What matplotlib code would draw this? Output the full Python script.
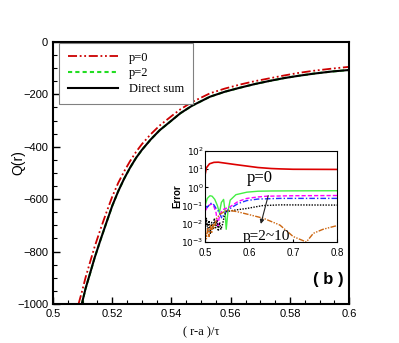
import matplotlib
matplotlib.use('Agg')
import matplotlib.pyplot as plt
import numpy as np

# main panel: Q(r) vs (r-a)/tau
x_ds = [0.5097, 0.511, 0.5125, 0.514, 0.516, 0.518, 0.520, 0.522, 0.524, 0.526, 0.528,
        0.530, 0.533, 0.536, 0.540, 0.543, 0.547, 0.553, 0.558, 0.563, 0.568, 0.573,
        0.578, 0.583, 0.588, 0.594, 0.600]
q_ds = [-1000, -940, -883, -825, -756, -690, -625, -570, -522, -480, -443,
        -412, -372, -337, -300, -272, -243, -209, -190, -175, -161, -149,
        -138, -129, -121, -113, -107]
x_p0 = [0.5086, 0.5097, 0.511, 0.5125, 0.514, 0.516, 0.518, 0.520, 0.522, 0.524, 0.526,
        0.528, 0.530, 0.533, 0.536, 0.540, 0.543, 0.547, 0.553, 0.558, 0.563, 0.568,
        0.573, 0.578, 0.583, 0.588, 0.594, 0.600]
q_p0 = [-1000, -955, -898, -840, -783, -715, -651, -590, -538, -494, -455,
        -420, -390, -352, -319, -283, -257, -229, -196, -178, -163, -150,
        -139, -128, -118, -110, -102, -95]
q_p2 = [-1000, -940, -883, -825, -756, -690, -625, -570, -522, -480, -443,
        -412, -372, -337, -300, -272, -243, -209, -190, -175, -161, -149,
        -138, -129, -121, -113, -107]

# inset: error curves
ex_p0 = [0.5, 0.503, 0.51, 0.52, 0.53, 0.55, 0.57, 0.595, 0.62, 0.65, 0.67, 0.7, 0.8]
e_p0 = [5, 12, 20, 24, 24.5, 21, 18, 15, 12.5, 11, 10.5, 10, 9.8]
ex_g = [0.5, 0.505, 0.511, 0.516, 0.522, 0.528, 0.5325, 0.537, 0.542, 0.545, 0.548,
        0.552, 0.557, 0.57, 0.595, 0.62, 0.65, 0.7, 0.8]
e_g = [0.1, 0.25, 0.35, 0.33, 0.22, 0.1, 0.04, 0.15, 0.22, 0.06, 0.005,
       0.05, 0.2, 0.4, 0.55, 0.62, 0.64, 0.65, 0.66]
ex_m = [0.5, 0.505, 0.51, 0.515, 0.52, 0.525, 0.529, 0.533, 0.54, 0.557, 0.575, 0.595, 0.62, 0.64, 0.7, 0.8]
e_m = [0.05, 0.08, 0.11, 0.12, 0.09, 0.04, 0.008, 0.03, 0.06, 0.087, 0.17, 0.25, 0.3, 0.33, 0.35, 0.36]
ex_b = [0.5, 0.505, 0.51, 0.515, 0.52, 0.525, 0.53, 0.535, 0.538, 0.542, 0.548, 0.557, 0.575, 0.595, 0.62, 0.67, 0.8]
e_b = [0.1, 0.08, 0.12, 0.14, 0.11, 0.07, 0.05, 0.03, 0.02, 0.03, 0.05, 0.07, 0.13, 0.19, 0.23, 0.25, 0.25]
ex_k = [0.5, 0.503, 0.506, 0.509, 0.512, 0.515, 0.518, 0.521, 0.524, 0.527, 0.53, 0.533,
        0.536, 0.54, 0.544, 0.549, 0.57, 0.595, 0.63, 0.67, 0.8]
e_k = [0.006, 0.02, 0.004, 0.015, 0.003, 0.012, 0.005, 0.02, 0.006, 0.015, 0.004, 0.012,
       0.005, 0.01, 0.03, 0.047, 0.058, 0.07, 0.1, 0.11, 0.107]
ex_o = [0.5, 0.503, 0.506, 0.509, 0.512, 0.515, 0.518, 0.521, 0.526, 0.535, 0.55, 0.572,
        0.6, 0.633, 0.67, 0.7, 0.73, 0.746, 0.768, 0.8]
e_o = [0.004, 0.0015, 0.006, 0.002, 0.008, 0.003, 0.01, 0.006, 0.02, 0.035, 0.057, 0.047,
       0.032, 0.02, 0.0085, 0.002, 0.001, 0.003, 0.005, 0.008]

fig = plt.figure(figsize=(3.99, 3.43), dpi=100)
ax = fig.add_axes([0.133, 0.1137, 0.742, 0.764])

ax.plot(x_ds, q_p2, color='#22dd22', lw=1.5, ls=(0, (2, 1.5)), label='p=2')
ax.plot(x_p0, q_p0, color='#cc0000', lw=1.3, ls=(0, (5, 1.5, 1, 1.5, 1, 1.5)), label='p=0')
ax.plot(x_ds, q_ds, color='black', lw=1.5, label='Direct sum')

ax.set_xlim(0.5, 0.6)
ax.set_ylim(-1000, 0)
ax.set_xticks(np.arange(0.5, 0.6001, 0.02))
ax.set_xticklabels(['0.5', '0.52', '0.54', '0.56', '0.58', '0.6'])
ax.set_yticks(np.arange(-1000, 1, 200))
ax.set_xticks(np.arange(0.5, 0.6001, 0.005), minor=True)
ax.set_yticks(np.arange(-1000, 1, 50), minor=True)
ax.tick_params(direction='in', which='both', top=False, right=False, labelsize=8)
ax.tick_params(which='major', length=5, width=1)
ax.tick_params(which='minor', length=3, width=0.8)
for lab in ax.get_xticklabels() + ax.get_yticklabels():
    lab.set_family('Liberation Sans')
for s in ax.spines.values():
    s.set_linewidth(1.5)
ax.set_ylabel('Q(r)', fontsize=10, family='Liberation Sans')
ax.yaxis.set_label_coords(-0.092, 0.54)
ax.set_xlabel('( r-a )/τ', fontsize=9, family='Liberation Serif')
ax.xaxis.set_label_coords(0.5, -0.085)

h, l = ax.get_legend_handles_labels()
order = [1, 0, 2]
leg = ax.legend([h[i] for i in order], [l[i] for i in order], loc='upper left',
                bbox_to_anchor=(0.02, 0.996), prop={'family': 'Liberation Serif', 'size': 9},
                handlelength=4.0, labelspacing=0.3, borderpad=0.7, handletextpad=0.9,
                fancybox=False, edgecolor='gray', framealpha=1, borderaxespad=0)
leg.get_frame().set_linewidth(0.8)

ax.text(0.929, 0.095, '( b )', transform=ax.transAxes, ha='center', va='center',
        fontsize=12, fontweight='bold', family='Liberation Sans')

ins = fig.add_axes([0.514, 0.2945, 0.331, 0.265])
ins.semilogy(ex_p0, e_p0, color='#dd0000', lw=1.2)
ins.semilogy(ex_g, e_g, color='#44ee44', lw=1.0)
ins.semilogy(ex_m, e_m, color='#ff00ff', lw=1.0, ls=(0, (3, 1.5)))
ins.semilogy(ex_b, e_b, color='#2233ff', lw=1.0, ls=(0, (4, 1.5, 1, 1.5)))
ins.semilogy(ex_k, e_k, color='black', lw=1.0, ls=(0, (1, 1)))
ins.semilogy(ex_o, e_o, color='#cc6611', lw=1.0, ls=(0, (4, 1, 1, 1, 1, 1)))
ins.set_xlim(0.5, 0.8)
ins.set_ylim(1e-3, 1e2)
ins.set_xticks([0.5, 0.6, 0.7, 0.8])
ins.set_yticks([1e-3, 1e-2, 1e-1, 1e0, 1e1, 1e2])
ins.set_yticklabels(['$10^{-3}$', '$10^{-2}$', '$10^{-1}$', '$10^{0}$', '$10^{1}$', '$10^{2}$'])
ins.minorticks_off()
ins.tick_params(direction='in', length=2)
ins.tick_params(axis='y', pad=1, labelsize=6.5)
ins.tick_params(axis='x', pad=4, labelsize=7)
for lab in ins.get_xticklabels():
    lab.set_family('Liberation Sans')
for s in ins.spines.values():
    s.set_linewidth(0.8)
ins.set_ylabel('Error', fontsize=7, fontweight='bold', family='Liberation Sans')
ins.yaxis.set_label_coords(-0.17, 0.5)

ins.text(0.623, 3.3, 'p=0', fontsize=12, family='Liberation Serif', ha='center', va='center')
ins.text(0.64, 0.0019, 'p=2~10', fontsize=11, family='Liberation Serif', ha='center', va='center')
ins.annotate('', xy=(0.625, 0.007), xytext=(0.645, 0.5),
             arrowprops=dict(arrowstyle='-|>', color='#222222', lw=0.8, mutation_scale=6))

fig.savefig('out.png', dpi=100)
